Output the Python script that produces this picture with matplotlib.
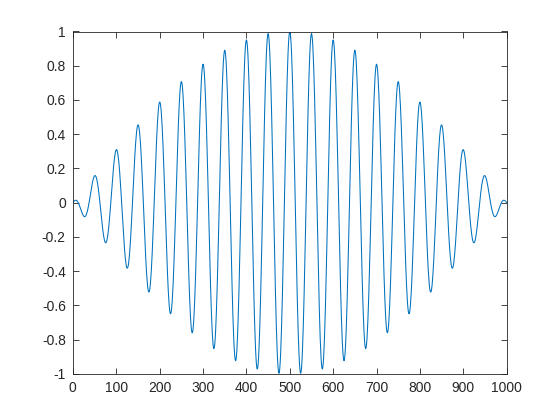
import numpy as np
import matplotlib
matplotlib.use("Agg")
import matplotlib.pyplot as plt

# signal: sine-windowed cosine, 1000 samples, period 50
n_samples = 1000
period = 50
n = np.arange(n_samples + 1)
window = np.sin(np.pi * n / n_samples)
signal = window * np.cos(2 * np.pi * n / period)

x_ticks = [0, 100, 200, 300, 400, 500, 600, 700, 800, 900, 1000]
y_ticks = [-1, -0.8, -0.6, -0.4, -0.2, 0, 0.2, 0.4, 0.6, 0.8, 1]
y_labels = ["-1", "-0.8", "-0.6", "-0.4", "-0.2", "0", "0.2", "0.4", "0.6", "0.8", "1"]

plt.rcParams['font.family'] = ['Liberation Sans', 'DejaVu Sans']

fig = plt.figure(figsize=(5.6, 4.2), dpi=100)
ax = fig.add_axes([0.13, 0.11, 0.775, 0.815])
ax.plot(n, signal, color="#0072BD", lw=0.75)

ax.set_xlim(0, 1000)
ax.set_ylim(-1, 1)
ax.set_xticks(x_ticks)
ax.set_xticklabels([str(t) for t in x_ticks])
ax.set_yticks(y_ticks)
ax.set_yticklabels(y_labels)
ax.tick_params(direction="in", top=True, right=True, length=4, width=0.6,
               labelsize=10, colors="#262626", pad=5)
for s in ax.spines.values():
    s.set_linewidth(0.6)
    s.set_color("#262626")

fig.savefig("out.png", dpi=100)
